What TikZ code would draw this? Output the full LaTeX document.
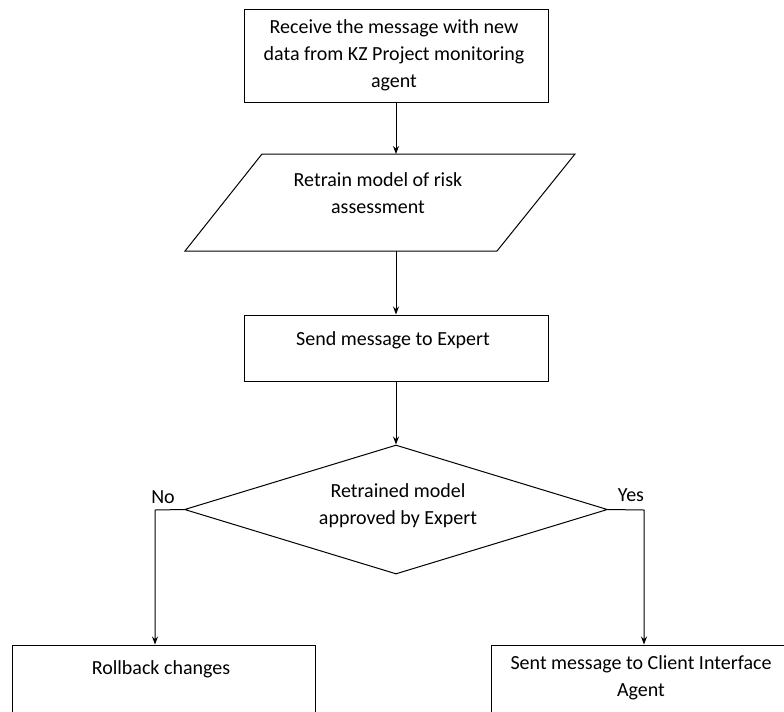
\documentclass[tikz,border=0pt]{standalone}
\usepackage{fontspec}
\setmainfont{Carlito}
\usetikzlibrary{arrows.meta, shapes.geometric}
\newdimen\pix
\pix=0.75pt

\tikzset{
	box/.style={draw, line width=0.75pt, rectangle, inner sep=0pt},
	txt/.style={align=center, inner sep=0pt, font=\fontsize{15}{20.25}\selectfont},
	arr/.style={line width=0.75pt, -{Stealth[length=6pt, width=4.5pt]}},
}

\begin{document}
\begin{tikzpicture}[x=0.75pt, y=-0.75pt]
		\clip (0,0) rectangle (784,711);
		\fill[white] (0,0) rectangle (784,711);

		% boxes
		\node[box, minimum width=304\pix, minimum height=93\pix] (recv) at (396,55.5) {};
		\node[txt] (recvtxt) at (394,55) {Receive the message with new\\data from KZ Project monitoring\\agent};

		\draw[line width=0.75pt] (262,154) -- (575,154) -- (497,251) -- (185,251) -- cycle;
		\coordinate (partop) at (396,154);
		\coordinate (parbot) at (396,251);
		\node[txt] (partxt) at (378,193.5) {Retrain model of risk\\assessment};

		\node[box, minimum width=304\pix, minimum height=66\pix] (send) at (396,348) {};
		\node[txt] (sendtxt) at (393,340) {Send message to Expert};

		\node[draw, line width=0.75pt, diamond, inner sep=0pt, minimum width=423\pix, minimum height=129\pix] (check) at (396,509.5) {};
		\node[txt] (checktxt) at (398,506) {Retrained model\\approved by Expert};

		\node[box, minimum width=303\pix, minimum height=110\pix] (roll) at (163.5,700) {};
		\node[txt] (rolltxt) at (161,669) {Rollback changes};

		\node[box, minimum width=301\pix, minimum height=110\pix] (client) at (641.5,700) {};
		\node[txt] (clienttxt) at (641,678) {Sent message to Client Interface\\Agent};

		% connectors
		\draw[arr] (recv.south) -- (partop);
		\draw[arr] (parbot) -- (send.north);
		\draw[arr] (send.south) -- (check.north);

		\coordinate (nocorner) at (155,510);
		\coordinate (yescorner) at (644,510);
		\draw[arr] (check.west) -- (nocorner) -- (nocorner |- roll.north);
		\draw[arr] (check.east) -- (yescorner) -- (yescorner |- client.north);

		\node[txt] (nolbl) at (163,497) {No};
		\node[txt] (yeslbl) at (631,495) {Yes};
	\end{tikzpicture}
\end{document}
